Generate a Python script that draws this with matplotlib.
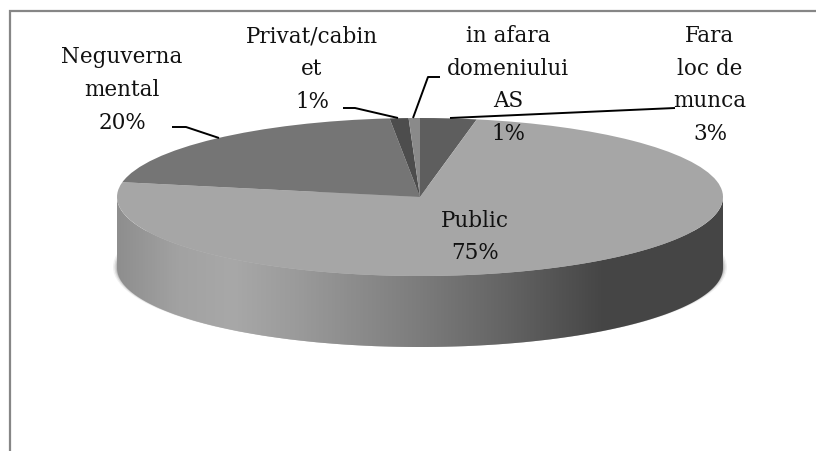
import matplotlib
matplotlib.use('Agg')
import matplotlib.pyplot as plt
import numpy as np
from matplotlib.colors import LinearSegmentedColormap
from matplotlib.patches import Ellipse, PathPatch
from matplotlib.path import Path

# data
categories = ['Fara loc de munca', 'Public', 'Neguvernamental', 'Privat/cabinet', 'in afara domeniului AS']
values = [3.0, 75.0, 20.4, 1.0, 0.6]
slice_colors = ['#5e5e5e', '#a6a6a6', '#757575', '#4d4d4d', '#8a8a8a']
labels = ['Fara\nloc de\nmunca\n3%', 'Public\n75%', 'Neguverna\nmental\n20%',
          'Privat/cabin\net\n1%', 'in afara\ndomeniului\nAS\n1%']

W, H = 816, 451
cx, cy, rx, ry, depth = 420, 197, 303, 79, 71

plt.rcParams['font.family'] = ['DejaVu Serif']
fig = plt.figure(figsize=(W / 100, H / 100), dpi=100)

# whole figure in pixel coords
ax = fig.add_axes([0, 0, 1, 1])
ax.set_xlim(0, W)
ax.set_ylim(H, 0)
ax.axis('off')

# chart frame, no bottom edge in the crop
ax.plot([10, 10, W], [H, 11, 11], color='#868686', lw=1.6, solid_joinstyle='miter')

# soft shadow under the side wall, shows mostly at the two ends
for grow, a in [(4, 0.08), (2.5, 0.14), (1.2, 0.2)]:
    ax.add_patch(Ellipse((cx, cy + depth - 1), 2 * (rx + grow), 2 * (ry + 1),
                         fc='#555555', ec='none', alpha=a, zorder=1))

# side wall with horizontal gradient
t = np.linspace(np.pi, 0, 200)
xs = cx + rx * np.cos(t)
side = np.concatenate([
    np.column_stack([xs, cy + ry * np.sin(t)]),
    np.column_stack([xs[::-1], cy + depth + ry * np.sin(t[::-1])]),
])
side_path = Path(np.vstack([side, side[0]]), closed=True)
stops = [(0.0, '#8e8e8e'), (0.10, '#a2a2a2'), (0.19, '#a8a8a8'), (0.30, '#9a9a9a'),
         (0.50, '#7c7c7c'), (0.64, '#646464'), (0.80, '#464646'), (1.0, '#454545')]
cmap = LinearSegmentedColormap.from_list('side', stops)
grad = ax.imshow(np.linspace(0, 1, 256)[None, :], cmap=cmap, aspect='auto',
                 extent=[cx - rx, cx + rx, cy + depth + ry + 1, cy - 1], zorder=2)
clip = PathPatch(side_path, transform=ax.transData, fc='none', ec='none')
ax.add_patch(clip)
grad.set_clip_path(clip)
ax.set_xlim(0, W)
ax.set_ylim(H, 0)

# top of the pie, an own axes stretched into the ellipse
pax = fig.add_axes([(cx - rx) / W, 1 - (cy + ry) / H, 2 * rx / W, 2 * ry / H], zorder=3)
pax.pie(values, colors=slice_colors, startangle=90, counterclock=False, radius=1,
        wedgeprops={'linewidth': 0})
pax.set_aspect('auto')
pax.set_xlim(-1, 1)
pax.set_ylim(-1, 1)
pax.axis('off')

# text and leader lines go on top
tax = fig.add_axes([0, 0, 1, 1], zorder=4)
tax.set_xlim(0, W)
tax.set_ylim(H, 0)
tax.axis('off')

for xy in [[(172, 127), (186, 127), (219, 138)],
           [(343, 108), (355, 108), (398, 118)],
           [(440, 77), (428, 77), (413, 118)],
           [(450, 118), (675, 108)]]:
    px, py = zip(*xy)
    tax.plot(px, py, color='black', lw=1.4, solid_capstyle='butt')

label_pos = [(710, 85), (475, 237), (122, 90), (312, 69), (508, 85)]
for (lx, ly), txt in zip(label_pos, labels):
    tax.text(lx, ly, txt, ha='center', va='center', fontsize=15.5, color='#111111',
             linespacing=1.62)

fig.savefig('out.png', dpi=100)
